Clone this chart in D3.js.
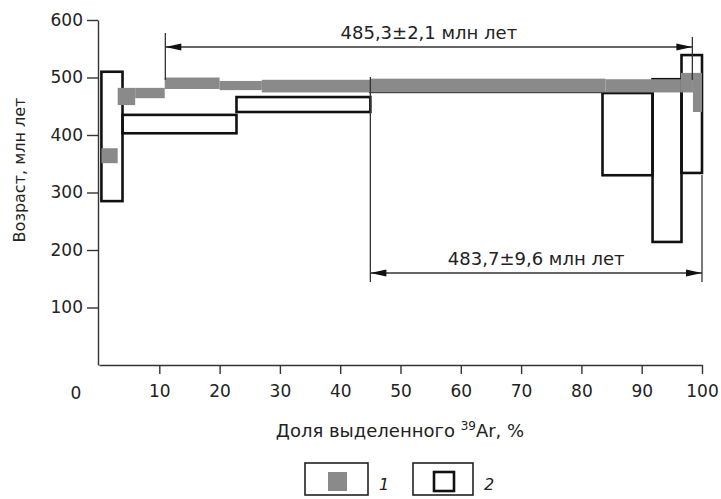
<!DOCTYPE html>
<html>
<head>
<meta charset="utf-8">
<script src="https://cdn.jsdelivr.net/npm/d3@7"></script>
<style>
  body { margin: 0; background: #fff; }
  text { font-family: "DejaVu Sans", sans-serif; fill: #222; }
</style>
</head>
<body>
<svg id="chart" width="721" height="499"></svg>
<script>
// Age spectra, each step: [from %, to %, age low, age high]
var series1Steps = [
  [0.4, 3.1, 351, 377],
  [3.1, 6.0, 452, 482],
  [6.0, 10.9, 464, 482],
  [10.9, 20, 480, 500],
  [20, 27, 478, 494],
  [27, 45, 474, 496],
  [45, 84, 474, 498],
  [84, 96.5, 474, 497],
  [96.5, 98.5, 474, 508],
  [98.5, 100, 440, 508]
];
var series2Steps = [
  [0.4, 3.9, 285, 510],
  [3.9, 22.8, 403, 435],
  [22.8, 45, 440, 466],
  [45, 83.5, 475, 490],
  [83.5, 91.8, 330, 473],
  [91.8, 96.6, 214, 497],
  [96.6, 100, 334, 539]
];
// plateaus: [from %, to %]
var plateau1 = [11, 98.4];
var plateau2 = [45, 100];
var plateauLabels = ["485,3\u00b12,1 \u043c\u043b\u043d \u043b\u0435\u0442", "483,7\u00b19,6 \u043c\u043b\u043d \u043b\u0435\u0442"];
var xTicks = [10, 20, 30, 40, 50, 60, 70, 80, 90, 100];
var yTicks = [100, 200, 300, 400, 500, 600];
var legendLabels = ["1", "2"];

var margin = {top: 20, right: 19, bottom: 134, left: 99},
    width = 721 - margin.left - margin.right,
    height = 499 - margin.top - margin.bottom;

var svg = d3.select("#chart");
var g = svg.append("g").attr("transform", "translate(" + margin.left + "," + margin.top + ")");

var x = d3.scaleLinear().domain([0, 100]).range([0, width]);
var y = d3.scaleLinear().domain([0, 600]).range([height, 0]);

// axes
var yAxis = g.append("g")
    .attr("transform", "translate(-1,0)")
    .call(d3.axisLeft(y).tickValues(yTicks).tickSize(11).tickSizeOuter(0).tickPadding(4));
var xAxis = g.append("g")
    .attr("transform", "translate(0," + height + ")")
    .call(d3.axisBottom(x).tickValues(xTicks).tickSize(9).tickSizeOuter(0).tickPadding(11));
[xAxis, yAxis].forEach(function(a) {
  a.selectAll("path, line").attr("stroke", "#333").attr("stroke-width", 1.4);
  a.selectAll("text").style("font-size", "17px").attr("fill", "#222");
});
// origin label
g.append("text")
    .attr("x", x(0) - 23).attr("y", height + 34)
    .attr("text-anchor", "middle").style("font-size", "17px")
    .text("0");

// black outlined steps (series 2)
g.selectAll("rect.s2").data(series2Steps).enter().append("rect")
    .attr("class", "s2")
    .attr("x", function(d) { return x(d[0]); })
    .attr("width", function(d) { return x(d[1]) - x(d[0]); })
    .attr("y", function(d) { return y(d[3]); })
    .attr("height", function(d) { return y(d[2]) - y(d[3]); })
    .attr("fill", "none").attr("stroke", "#111").attr("stroke-width", 2.6);

// grey filled steps (series 1)
g.selectAll("rect.s1").data(series1Steps).enter().append("rect")
    .attr("class", "s1")
    .attr("x", function(d) { return x(d[0]); })
    .attr("width", function(d) { return x(d[1]) - x(d[0]); })
    .attr("y", function(d) { return y(d[3]); })
    .attr("height", function(d) { return y(d[2]) - y(d[3]); })
    .attr("fill", "#8a8a8a");

// plateau dimension arrows
function arrow(x0, x1, yy, leftTop, rightTop, bottom, label, labelY) {
  var a = g.append("g");
  a.append("line").attr("x1", x(x0)).attr("x2", x(x1)).attr("y1", yy).attr("y2", yy);
  a.append("line").attr("x1", x(x0)).attr("x2", x(x0)).attr("y1", leftTop).attr("y2", bottom);
  a.append("line").attr("x1", x(x1)).attr("x2", x(x1)).attr("y1", rightTop).attr("y2", bottom);
  a.selectAll("line").attr("stroke", "#333").attr("stroke-width", 1.3);
  var hl = 16, hw = 3.5;
  a.append("path")
      .attr("d", "M" + x(x0) + "," + yy + "L" + (x(x0) + hl) + "," + (yy - hw) + "L" + (x(x0) + hl) + "," + (yy + hw) + "Z")
      .attr("fill", "#111");
  a.append("path")
      .attr("d", "M" + x(x1) + "," + yy + "L" + (x(x1) - hl) + "," + (yy - hw) + "L" + (x(x1) - hl) + "," + (yy + hw) + "Z")
      .attr("fill", "#111");
  a.append("text")
      .attr("x", (x(x0) + x(x1)) / 2).attr("y", labelY)
      .attr("text-anchor", "middle").style("font-size", "18px")
      .text(label);
}
arrow(plateau1[0], plateau1[1], 27, 13, 17, 60, plateauLabels[0], 19);
arrow(plateau2[0], plateau2[1], 253, 57, 155, 262, plateauLabels[1], 245);

// axis titles
svg.append("text")
    .attr("transform", "translate(25," + (margin.top + 150) + ") rotate(-90)")
    .attr("text-anchor", "middle").style("font-size", "16px")
    .text("\u0412\u043e\u0437\u0440\u0430\u0441\u0442, \u043c\u043b\u043d \u043b\u0435\u0442");
var xt = svg.append("text")
    .attr("x", 400).attr("y", 437)
    .attr("text-anchor", "middle").style("font-size", "18px");
xt.append("tspan").text("\u0414\u043e\u043b\u044f \u0432\u044b\u0434\u0435\u043b\u0435\u043d\u043d\u043e\u0433\u043e ");
xt.append("tspan").attr("dy", -7).style("font-size", "12px").text("39");
xt.append("tspan").attr("dy", 7).text("Ar, %");

// legend
var legend = svg.append("g");
var lg = [{x: 305, w: 63}, {x: 413, w: 60}];
legend.selectAll("rect.box").data(lg).enter().append("rect")
    .attr("x", function(d) { return d.x; }).attr("y", 463)
    .attr("width", function(d) { return d.w; }).attr("height", 32)
    .attr("fill", "none").attr("stroke", "#222").attr("stroke-width", 1.6);
legend.append("rect").attr("x", 328).attr("y", 472).attr("width", 19).attr("height", 19)
    .attr("fill", "#8a8a8a");
legend.append("rect").attr("x", 434).attr("y", 472).attr("width", 20).attr("height", 19)
    .attr("fill", "none").attr("stroke", "#111").attr("stroke-width", 2.6);
legend.selectAll("text.lab").data(legendLabels).enter().append("text")
    .attr("x", function(d, i) { return lg[i].x + lg[i].w + 11; })
    .attr("y", 490)
    .style("font-size", "16px").style("font-style", "italic")
    .text(function(d) { return d; });
</script>
</body>
</html>
